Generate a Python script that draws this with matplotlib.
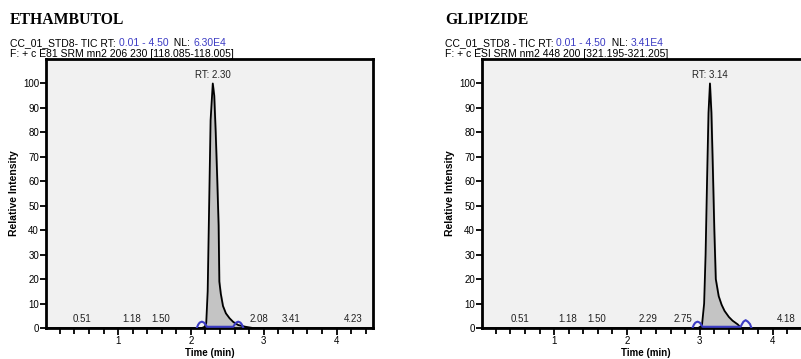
"""
Two SRM chromatograms (Ethambutol, Glipizide) side by side.
"""

import matplotlib.pyplot as plt
from matplotlib.ticker import MultipleLocator

# --- ETHAMBUTOL trace ---
eth_time = [0.01, 2.15, 2.19, 2.21, 2.23, 2.25, 2.27, 2.30, 2.32, 2.34, 2.36, 2.38,
            2.39, 2.41, 2.44, 2.48, 2.53, 2.58, 2.65, 2.75, 2.85, 4.50]
eth_int = [0, 0, 0.5, 2, 15, 50, 85, 100, 95, 80, 62, 42,
           19, 14, 9, 6, 4, 2.5, 1.2, 0.5, 0, 0]
eth_base_t = [2.08, 2.10, 2.12, 2.15, 2.18, 2.20, 2.22, 2.58, 2.60, 2.62, 2.65, 2.68, 2.70, 2.72]
eth_base_y = [0, 1.4, 2.2, 2.6, 2.2, 1.4, 0.5, 0.5, 1.4, 2.2, 2.6, 2.2, 1.4, 0]
eth_peak_rt = 2.30
eth_minor_rt = [0.51, 1.18, 1.50, 2.08, 3.41, 4.23]
eth_minor_x = [0.51, 1.18, 1.58, 2.93, 3.37, 4.23]

# --- GLIPIZIDE trace ---
gli_time = [0.01, 2.98, 3.03, 3.06, 3.08, 3.10, 3.12, 3.14, 3.16, 3.18, 3.20, 3.22,
            3.26, 3.30, 3.34, 3.40, 3.45, 3.52, 3.57, 4.50]
gli_int = [0, 0, 1, 10, 30, 60, 88, 100, 88, 65, 40, 20,
           13, 9.5, 7, 4.5, 3, 1.5, 0, 0]
gli_base_t = [2.90, 2.92, 2.94, 2.97, 3.00, 3.02, 3.04, 3.56, 3.58, 3.60, 3.63, 3.66, 3.69, 3.71]
gli_base_y = [0, 1.4, 2.2, 2.6, 2.2, 1.4, 0.5, 0.5, 1.6, 2.6, 3.2, 2.6, 1.6, 0]
gli_peak_rt = 3.14
gli_minor_rt = [0.51, 1.18, 1.50, 2.29, 2.75, 4.18]
gli_minor_x = [0.53, 1.19, 1.59, 2.29, 2.77, 4.18]

BLUE = '#3c3cc4'
BG = '#f1f1f1'
FILL = '#c4c4c4'
SANS = 'Liberation Sans'
HEAD_FS = 7.5


def rainbow(fig, x, y, pieces):
    """Draw consecutive colored text pieces on one line."""
    t = fig.text(x, y, pieces[0][0], family=SANS, fontsize=HEAD_FS,
                 color=pieces[0][1], va='baseline')
    for s, c in pieces[1:]:
        t = fig.get_axes()[0].annotate(s, xy=(1, 0), xycoords=t, family=SANS,
                                       fontsize=HEAD_FS, color=c, va='bottom',
                                       annotation_clip=False)


def chrom(ax, t, y, bt, by, peak_rt, minor_rt, minor_x):
    ax.set_facecolor(BG)
    ax.fill_between(t, y, 0, color=FILL, zorder=2)
    ax.plot(t, y, color='black', lw=1.3, zorder=3)
    ax.plot(bt, by, color=BLUE, lw=1.5, zorder=4)
    ax.text(peak_rt, 101.5, f'RT: {peak_rt:.2f}', ha='center', va='bottom',
            family=SANS, fontsize=7, color='#222222')
    for rt, x in zip(minor_rt, minor_x):
        ax.text(x, 1.5, f'{rt:.2f}', ha='center', va='bottom',
                family=SANS, fontsize=7, color='#222222')
    ax.set_xlim(0.01, 4.5)
    ax.set_ylim(0, 110)
    ax.xaxis.set_major_locator(MultipleLocator(1))
    ax.xaxis.set_minor_locator(MultipleLocator(0.2))
    ax.set_yticks(range(0, 101, 10))
    ax.tick_params(axis='both', which='both', direction='out', width=1.3, length=4,
                   labelsize=7, pad=1)
    ax.tick_params(axis='x', which='major', length=5)
    for lab in ax.get_xticklabels() + ax.get_yticklabels():
        lab.set_family(SANS)
    for sp in ax.spines.values():
        sp.set_linewidth(2)
    ax.set_xlabel('Time (min)', family=SANS, fontweight='bold', fontsize=7, labelpad=1)
    ax.set_ylabel('Relative Intensity', family=SANS, fontweight='bold', fontsize=7.5,
                  labelpad=3)


fig = plt.figure(figsize=(8.01, 3.59), dpi=100)
ax1 = fig.add_axes([46 / 801, 31 / 359, 327 / 801, 269 / 359])
ax2 = fig.add_axes([482 / 801, 31 / 359, 327 / 801, 269 / 359])

chrom(ax1, eth_time, eth_int, eth_base_t, eth_base_y, eth_peak_rt, eth_minor_rt, eth_minor_x)
chrom(ax2, gli_time, gli_int, gli_base_t, gli_base_y, gli_peak_rt, gli_minor_rt, gli_minor_x)

fig.text(10 / 801, 1 - 24 / 359, 'ETHAMBUTOL', family='Liberation Serif',
         fontweight='bold', fontsize=11.3, va='baseline')
fig.text(445 / 801, 1 - 24 / 359, 'GLIPIZIDE', family='Liberation Serif',
         fontweight='bold', fontsize=11.3, va='baseline')

rainbow(fig, 10 / 801, 1 - 46 / 359,
        [('CC_01_STD8- TIC RT: ', 'black'), ('0.01 - 4.50', BLUE),
         ('  NL: ', 'black'), ('6.30E4', BLUE)])
rainbow(fig, 445 / 801, 1 - 46 / 359,
        [('CC_01_STD8 - TIC RT: ', 'black'), ('0.01 - 4.50', BLUE),
         ('  NL: ', 'black'), ('3.41E4', BLUE)])
fig.text(10 / 801, 1 - 57 / 359, 'F: + c E81 SRM mn2 206 230 [118.085-118.005]',
         family=SANS, fontsize=HEAD_FS, va='baseline')
fig.text(445 / 801, 1 - 57 / 359, 'F: + c ESI SRM nm2 448 200 [321.195-321.205]',
         family=SANS, fontsize=HEAD_FS, va='baseline')

fig.savefig('out.png', dpi=100)
